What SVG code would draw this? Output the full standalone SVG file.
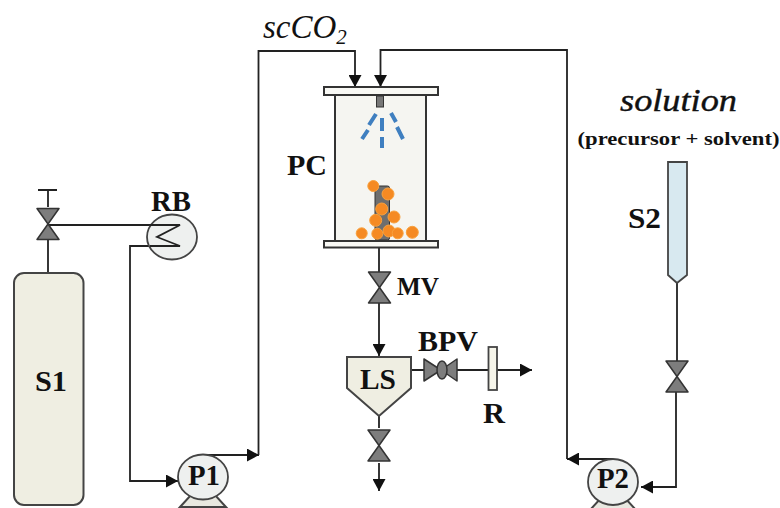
<svg xmlns="http://www.w3.org/2000/svg" width="780" height="508" viewBox="0 0 780 508">
<style>
.l{fill:none;stroke:#222;stroke-width:1.8}
.v{fill:#7d7d7d;stroke:#333;stroke-width:1.5;stroke-linejoin:round}
.t{font-family:"Liberation Serif",serif;font-weight:bold;fill:#111;text-anchor:middle;font-size:29px}
.i{font-family:"Liberation Serif",serif;font-style:italic;fill:#111}
.d{fill:#f58a23;stroke:#f9a13d;stroke-width:1}
.b{stroke:#3f7fc0;stroke-width:4;fill:none}
</style>
<defs>
<marker id="a" markerUnits="userSpaceOnUse" markerWidth="14" markerHeight="13" refX="12" refY="6.500" orient="auto"><path d="M0 0L12 6.500L0 13Z" fill="#111"/></marker>
<g id="vv"><path class="v" d="M-11 -15.500H11L0 0Z"/><path class="v" d="M-11 15.500H11L0 0Z"/></g>
</defs>
<rect width="780" height="508" fill="#fff"/>
<g id="connectors">
<path class="l" d="M48 190V207M38 190H57M48 240V273"/>
<path class="l" d="M48 225H180L157 237L180 246H130V481H178" marker-end="url(#a)"/>
<path class="l" d="M205 455H259" marker-end="url(#a)"/>
<path class="l" d="M258.500 455V51H355V87" marker-end="url(#a)"/>
<path class="l" d="M567 459V50H380.500V87" marker-end="url(#a)"/>
<path class="l" d="M613 459H567" marker-end="url(#a)"/>
<path class="l" d="M379 247V272M379 303V356" marker-end="url(#a)"/>
<path class="l" d="M379 416V428M379 463V491" marker-end="url(#a)"/>
<path class="l" d="M411 370H424M457 370H488M497 370H532" marker-end="url(#a)"/>
<path class="l" d="M677 283V361M676 392V487H641" marker-end="url(#a)"/>
</g>
<g id="S1"><rect x="14" y="273" width="69.500" height="232" rx="10" fill="#efeee2" stroke="#444" stroke-width="2"/><text class="t" x="51" y="391" textLength="32" lengthAdjust="spacingAndGlyphs">S1</text></g>
<g id="V1"><use href="#vv" x="48" y="224"/></g>
<g id="RB"><ellipse cx="172" cy="237" rx="25" ry="22.500" fill="#eef0ef" stroke="#444" stroke-width="1.800"/><path class="l" d="M150 225H180L157 237L180 246H150"/><text class="t" x="171" y="211" textLength="40" lengthAdjust="spacingAndGlyphs">RB</text></g>
<g id="P1"><path d="M180 507L191 495H215L226 507Z" fill="#e8e8e0" stroke="#444" stroke-width="2"/><ellipse cx="203" cy="477" rx="25" ry="22.500" fill="#eef0ef" stroke="#444" stroke-width="1.800"/><text class="t" x="204" y="485" textLength="32" lengthAdjust="spacingAndGlyphs">P1</text></g>
<g id="P2"><path d="M590 510L601 498H625L636 510Z" fill="#e8e8e0" stroke="#444" stroke-width="2"/><ellipse cx="613" cy="482" rx="25" ry="23" fill="#eef0ef" stroke="#444" stroke-width="1.800"/><text class="t" x="613" y="488" textLength="32" lengthAdjust="spacingAndGlyphs">P2</text></g>
<g id="PC">
<rect x="335" y="95" width="91" height="146" fill="#f5f5f1" stroke="#333" stroke-width="2"/>
<rect x="324" y="87" width="114" height="8" fill="#f8f8f4" stroke="#333" stroke-width="2"/>
<rect x="324" y="241" width="114" height="6.500" fill="#f8f8f4" stroke="#333" stroke-width="2"/>
<rect x="376.500" y="96" width="7" height="11" fill="#777" stroke="#333"/>
<path class="b" d="M376 114L369 125M368 130L362 139M382 118V131M382 137V148M391 113L396 122M397 127L403 139"/>
<rect x="375" y="186" width="14.500" height="54" rx="2" fill="#6e6e6e" stroke="#333"/>
<circle class="d" cx="373.300" cy="186" r="5.500"/><circle class="d" cx="388" cy="194" r="6"/><circle class="d" cx="381.700" cy="209" r="6"/><circle class="d" cx="394" cy="217" r="6"/><circle class="d" cx="375.700" cy="220.300" r="6"/><circle class="d" cx="361.700" cy="233.300" r="5.500"/><circle class="d" cx="377.300" cy="233.700" r="5.500"/><circle class="d" cx="389" cy="231" r="6"/><circle class="d" cx="397.700" cy="233.300" r="5.500"/><circle class="d" cx="412.300" cy="232.300" r="6"/>
<text class="t" x="307" y="175" textLength="40" lengthAdjust="spacingAndGlyphs">PC</text>
</g>
<g id="MV"><use href="#vv" x="379.500" y="287.500"/><text class="t" x="418" y="295" style="font-size:25px" textLength="42" lengthAdjust="spacingAndGlyphs">MV</text></g>
<g id="LS"><path d="M347 357H411V388L379 416L347 388Z" fill="#efeee2" stroke="#444" stroke-width="2"/><text class="t" x="378" y="389" textLength="36" lengthAdjust="spacingAndGlyphs">LS</text></g>
<g id="V3"><use href="#vv" x="379" y="445.500"/></g>
<g id="BPV"><path class="v" d="M424 359V381L441 370Z"/><path class="v" d="M457 359V381L441 370Z"/><ellipse cx="442" cy="370" rx="5" ry="9" fill="#7d7d7d" stroke="#333" stroke-width="1.500"/><text class="t" x="448" y="351" textLength="60" lengthAdjust="spacingAndGlyphs">BPV</text></g>
<g id="R"><rect x="488.500" y="347" width="8.500" height="43" fill="#f6f5ea" stroke="#444" stroke-width="1.800"/><text class="t" x="494" y="423" textLength="22" lengthAdjust="spacingAndGlyphs">R</text></g>
<g id="S2"><path d="M668 162H687V275L677 283L668 275Z" fill="#d8e9f0" stroke="#444" stroke-width="1.800"/><text class="t" x="644.500" y="228" textLength="33" lengthAdjust="spacingAndGlyphs">S2</text></g>
<g id="V4"><use href="#vv" x="677" y="376.500"/></g>
<g id="labels">
<text class="i" x="263" y="38" font-size="33">scCO<tspan font-size="21" dy="6">2</tspan></text>
<text class="i" x="620" y="111" font-size="32" textLength="117" lengthAdjust="spacingAndGlyphs" stroke="#111" stroke-width="0.400">solution</text>
<text class="t" x="678.500" y="145" style="font-size:19.500px" textLength="202" lengthAdjust="spacingAndGlyphs">(precursor + solvent)</text>
</g>
</svg>
